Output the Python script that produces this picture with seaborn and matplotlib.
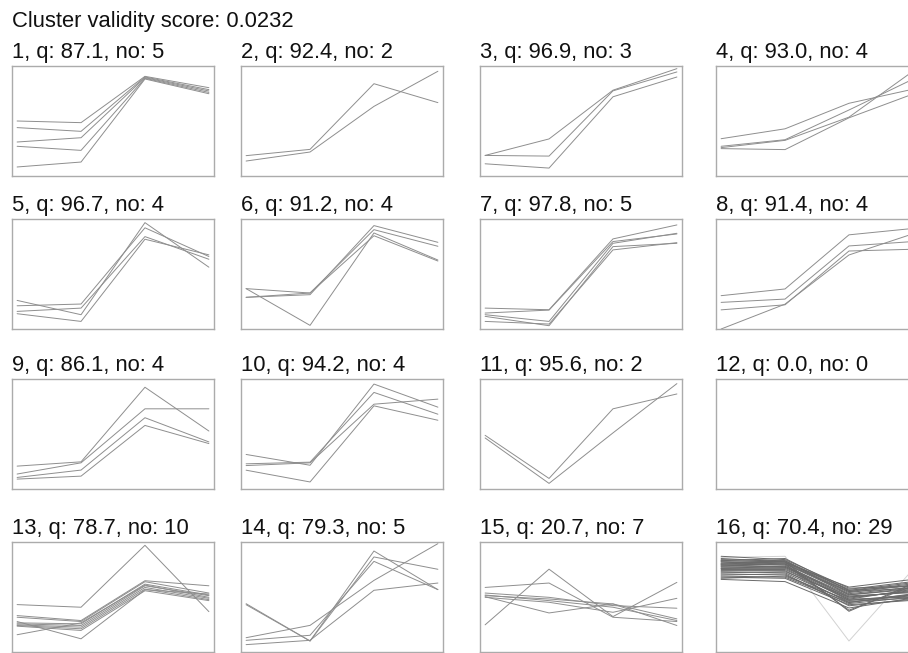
import matplotlib
matplotlib.use("Agg")
import matplotlib.pyplot as plt
import seaborn as sns
import pandas as pd

# profiles per cluster, 4 time points, values scaled 0..1 within the panel
cluster_1 = [
    [0.50, 0.485, 0.906, 0.803],
    [0.44, 0.406, 0.900, 0.785],
    [0.309, 0.348, 0.894, 0.773],
    [0.27, 0.233, 0.888, 0.760],
    [0.082, 0.127, 0.882, 0.748],
]
cluster_2 = [
    [0.185, 0.242, 0.839, 0.667],
    [0.136, 0.218, 0.633, 0.952],
]
cluster_3 = [
    [0.187, 0.337, 0.78, 0.976],
    [0.187, 0.181, 0.774, 0.946],
    [0.111, 0.072, 0.72, 0.90],
]
cluster_4 = [
    [0.339, 0.429, 0.661, 0.789],
    [0.270, 0.330, 0.600, 0.880],
    [0.258, 0.324, 0.535, 0.952],
    [0.249, 0.240, 0.529, 0.745],
]
cluster_5 = [
    [0.26, 0.13, 0.967, 0.562],
    [0.211, 0.227, 0.92, 0.659],
    [0.16, 0.190, 0.840, 0.634],
    [0.139, 0.069, 0.816, 0.674],
]
cluster_6 = [
    [0.367, 0.033, 0.873, 0.627],
    [0.367, 0.327, 0.903, 0.752],
    [0.288, 0.312, 0.94, 0.788],
    [0.288, 0.327, 0.848, 0.618],
]
cluster_7 = [
    [0.19, 0.175, 0.819, 0.946],
    [0.145, 0.172, 0.795, 0.864],
    [0.13, 0.069, 0.779, 0.870],
    [0.115, 0.03, 0.749, 0.779],
    [0.069, 0.045, 0.719, 0.785],
]
cluster_8 = [
    [0.303, 0.364, 0.856, 0.914],
    [0.242, 0.272, 0.755, 0.795],
    [0.174, 0.22, 0.709, 0.725],
    [0.0, 0.226, 0.673, 0.865],
]
cluster_9 = [
    [0.208, 0.247, 0.925, 0.527],
    [0.136, 0.238, 0.729, 0.729],
    [0.105, 0.172, 0.648, 0.428],
    [0.09, 0.117, 0.578, 0.413],
]
cluster_10 = [
    [0.314, 0.216, 0.954, 0.744],
    [0.229, 0.244, 0.878, 0.68],
    [0.213, 0.238, 0.771, 0.817],
    [0.171, 0.064, 0.756, 0.625],
]
cluster_11 = [
    [0.488, 0.096, 0.729, 0.864],
    [0.464, 0.051, 0.51, 0.958],
]
cluster_12 = []
cluster_13 = [
    [0.431, 0.407, 0.970, 0.367],
    [0.157, 0.265, 0.608, 0.497],
    [0.277, 0.12, 0.566, 0.527],
    [0.331, 0.286, 0.648, 0.602],
    [0.316, 0.277, 0.639, 0.536],
    [0.265, 0.256, 0.617, 0.518],
    [0.256, 0.241, 0.602, 0.512],
    [0.247, 0.226, 0.587, 0.488],
    [0.241, 0.211, 0.572, 0.476],
    [0.235, 0.196, 0.557, 0.467],
]
cluster_14 = [
    [0.439, 0.1, 0.918, 0.567],
    [0.43, 0.1, 0.864, 0.752],
    [0.13, 0.242, 0.651, 0.985],
    [0.106, 0.152, 0.824, 0.567],
    [0.067, 0.106, 0.561, 0.627],
]
cluster_15 = [
    [0.247, 0.753, 0.322, 0.633],
    [0.587, 0.627, 0.316, 0.277],
    [0.536, 0.497, 0.422, 0.398],
    [0.512, 0.482, 0.437, 0.241],
    [0.503, 0.355, 0.437, 0.301],
    [0.497, 0.452, 0.361, 0.488],
    [0.518, 0.467, 0.407, 0.286],
]
cluster_16 = [
    [0.86, 0.87, 0.10, 0.75],
    [0.85, 0.82, 0.37, 0.62],
    [0.82, 0.80, 0.38, 0.60],
    [0.87, 0.84, 0.58, 0.60],
    [0.84, 0.83, 0.56, 0.63],
    [0.83, 0.82, 0.55, 0.58],
    [0.82, 0.81, 0.54, 0.61],
    [0.81, 0.83, 0.52, 0.57],
    [0.80, 0.79, 0.50, 0.55],
    [0.80, 0.82, 0.57, 0.64],
    [0.79, 0.80, 0.53, 0.59],
    [0.78, 0.78, 0.49, 0.56],
    [0.78, 0.80, 0.55, 0.62],
    [0.77, 0.77, 0.51, 0.54],
    [0.76, 0.76, 0.47, 0.52],
    [0.76, 0.78, 0.52, 0.58],
    [0.75, 0.75, 0.48, 0.50],
    [0.74, 0.74, 0.45, 0.53],
    [0.73, 0.72, 0.46, 0.49],
    [0.72, 0.73, 0.50, 0.55],
    [0.71, 0.70, 0.44, 0.50],
    [0.70, 0.71, 0.42, 0.48],
    [0.69, 0.68, 0.45, 0.52],
    [0.68, 0.67, 0.43, 0.47],
    [0.67, 0.69, 0.47, 0.51],
    [0.66, 0.64, 0.40, 0.49],
    [0.80, 0.81, 0.59, 0.66],
    [0.83, 0.85, 0.56, 0.60],
    [0.79, 0.77, 0.48, 0.57],
]

clusters = [cluster_1, cluster_2, cluster_3, cluster_4, cluster_5, cluster_6,
            cluster_7, cluster_8, cluster_9, cluster_10, cluster_11, cluster_12,
            cluster_13, cluster_14, cluster_15, cluster_16]
cluster_q = [87.1, 92.4, 96.9, 93.0, 96.7, 91.2, 97.8, 91.4,
             86.1, 94.2, 95.6, 0.0, 78.7, 79.3, 20.7, 70.4]
cluster_no = [5, 2, 3, 4, 4, 4, 5, 4, 4, 4, 2, 0, 10, 5, 7, 29]
validity_score = 0.0232
time_points = [0, 1, 2, 3]

sns.set_style("white")
plt.rcParams["font.family"] = ["Liberation Sans", "DejaVu Sans"]

W, H = 908, 653
fig = plt.figure(figsize=(W / 100, H / 100), dpi=100)

col_left = [12, 241, 480, 716]
row_top = [66, 219, 379, 542]
box_w, box_h = 202, 110

for i, profiles in enumerate(clusters):
    r, c = divmod(i, 4)
    ax = fig.add_axes([col_left[c] / W, 1 - (row_top[r] + box_h) / H,
                       box_w / W, box_h / H])
    if profiles:
        df = pd.DataFrame([
            {"line": k, "t": t, "v": v}
            for k, prof in enumerate(profiles)
            for t, v in zip(time_points, prof)
        ])
        sns.lineplot(data=df, x="t", y="v", units="line", estimator=None,
                     color="#8e8e8e", lw=0.7, ax=ax, legend=False)
        if i == 15:
            # faint low-membership member
            ax.lines[0].set_color("#d2d2d2")
            for ln in ax.lines[1:]:
                ln.set_color("#6a6a6a")
    ax.set_xlim(-0.08, 3.08)
    ax.set_ylim(0, 1)
    ax.set_xticks([])
    ax.set_yticks([])
    ax.set_xlabel("")
    ax.set_ylabel("")
    for s in ax.spines.values():
        s.set_color("#ababab")
        s.set_linewidth(1.0)
    ax.set_title(f"{i + 1}, q: {cluster_q[i]:.1f}, no: {cluster_no[i]}",
                 loc="left", fontsize=15.8, pad=6, color="#111111")

fig.text(12 / W, 1 - 27 / H, f"Cluster validity score: {validity_score}",
         fontsize=15.8, va="baseline", ha="left", color="#111111")

fig.savefig("out.png", dpi=100)
